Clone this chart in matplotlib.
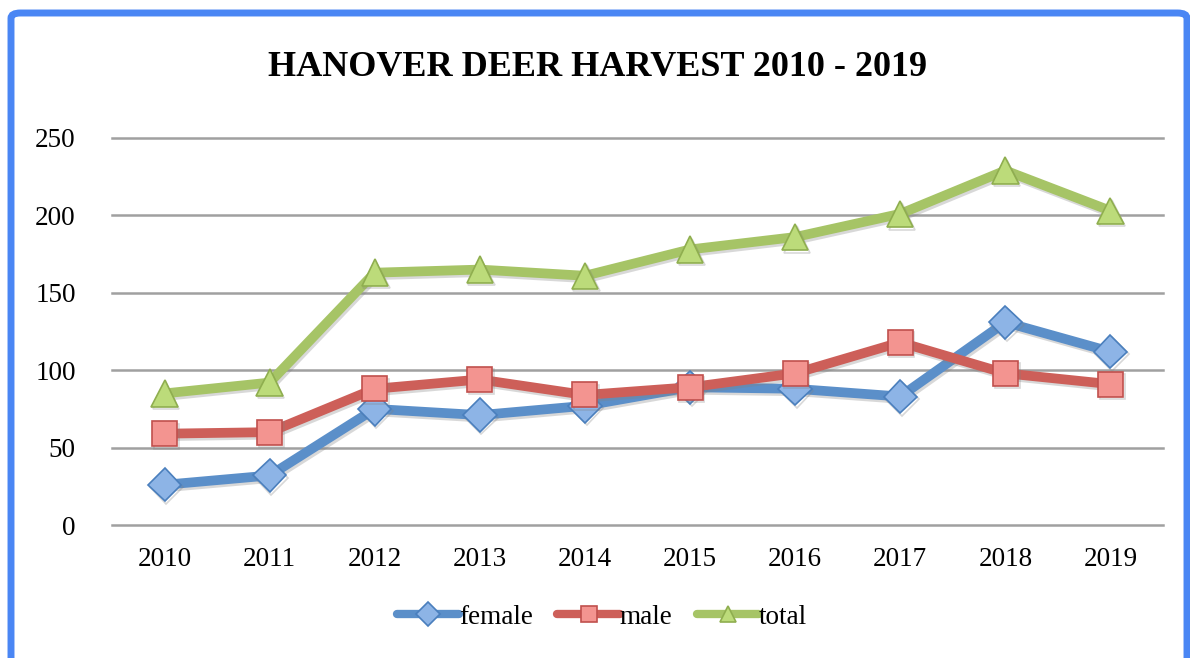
import matplotlib
matplotlib.use("Agg")
import matplotlib.pyplot as plt
from matplotlib.patches import FancyBboxPatch
import matplotlib.patheffects as pe

years = ["2010", "2011", "2012", "2013", "2014", "2015", "2016", "2017", "2018", "2019"]
female = [26, 32, 75, 71, 77, 89, 88, 83, 131, 112]
male = [59, 60, 88, 94, 84, 89, 98, 118, 98, 91]
total = [85, 92, 163, 165, 161, 178, 186, 201, 229, 203]

series = [
    ("female", female, "#5b8fc9", "#8db4e6", "#4a7fbd", "D", 17),
    ("male", male, "#cd5f59", "#f39490", "#c0504d", "s", 18),
    ("total", total, "#a6c466", "#bcdb7a", "#8fae4f", "^", 19),
]

plt.rcParams["font.family"] = ["Liberation Serif", "DejaVu Serif"]

fig = plt.figure(figsize=(11.9, 6.58), dpi=100)
ax = fig.add_axes([0.0941, 0.2021, 0.8832, 0.5882])

x = list(range(len(years)))
shadow = [pe.SimpleLineShadow(offset=(1.2, -1.8), shadow_color="gray", alpha=0.3), pe.Normal()]
for name, vals, lc, fc, ec, mk, ms in series:
    ax.plot(x, vals, color=lc, lw=7, marker=mk, ms=ms, mfc=fc, mec=ec, mew=1.2,
            solid_capstyle="round", label=name, zorder=3, path_effects=shadow)

ax.set_xlim(-0.5, 9.5)
ax.set_ylim(0, 250)
ax.set_yticks(range(0, 251, 50))
ax.set_xticks(x)
ax.set_xticklabels(years)
ax.yaxis.grid(True, color="#a0a0a0", lw=1.8)
for gl in ax.get_ygridlines():
    gl.set_clip_on(False)
ax.set_axisbelow(True)
for s in ax.spines.values():
    s.set_visible(False)
ax.tick_params(length=0, labelsize=19.5, colors="black")
ax.tick_params(axis="x", pad=16)
ax.tick_params(axis="y", pad=26)

fig.text(0.502, 0.897, "HANOVER DEER HARVEST 2010 - 2019", ha="center", va="center",
         fontsize=26, fontweight="bold")

leg = fig.legend(loc="center", bbox_to_anchor=(0.506, 0.062), ncol=3, frameon=False,
                 fontsize=19.5, handlelength=2.3, handletextpad=0.0, columnspacing=0.9)
for h in leg.legend_handles:
    h.set_path_effects([])
    h.set_markersize(12)
    h.set_linewidth(6)

W, H = 1190, 658
# blue frame; its bottom edge lies below the image
border = FancyBboxPatch((11 / W, -42 / H), (1187 - 11) / W, (658 - 13 + 42) / H,
                        boxstyle="round,pad=0,rounding_size=0.008",
                        transform=fig.transFigure, fill=False,
                        edgecolor="#4a86f4", lw=5, clip_on=False)
fig.patches.append(border)

fig.savefig("out.png", dpi=100)
